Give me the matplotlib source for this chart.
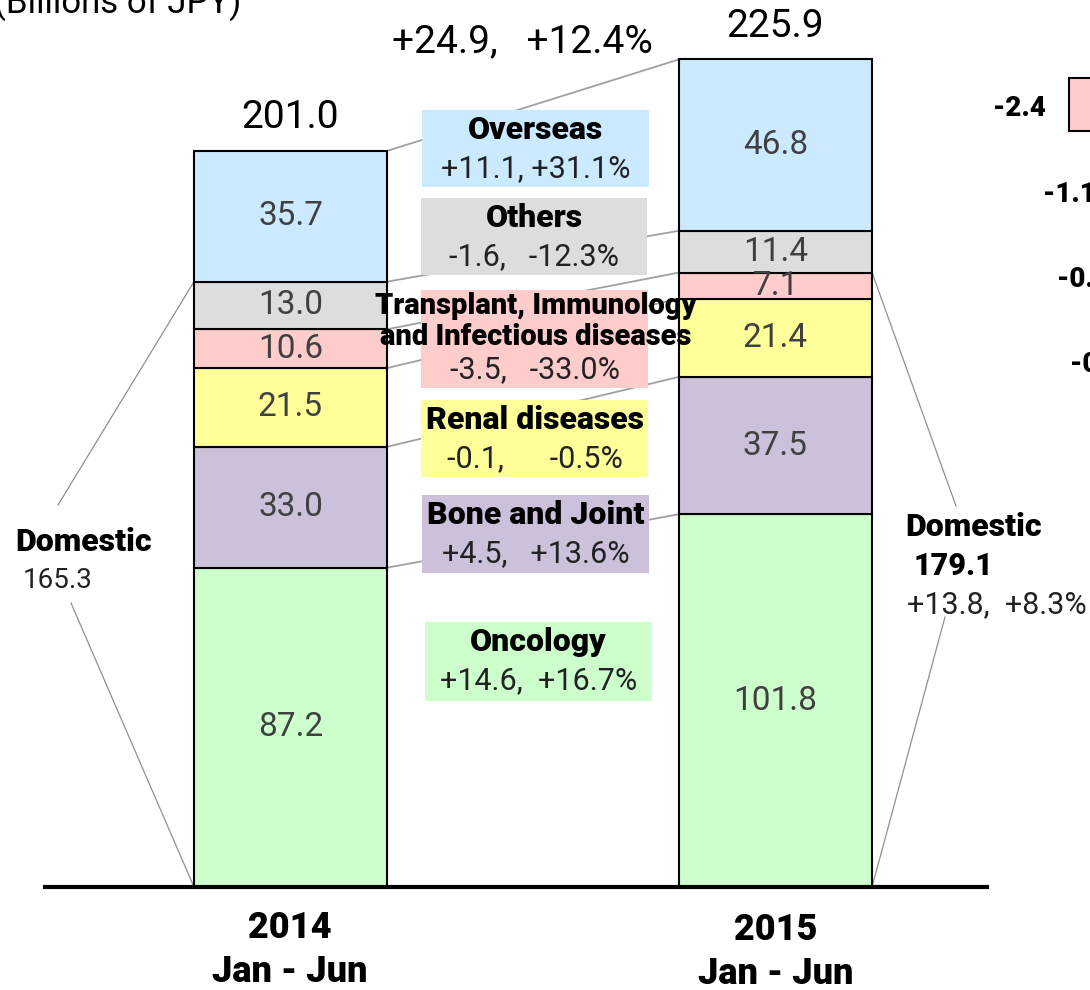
import matplotlib.pyplot as plt
import numpy as np
from matplotlib.patches import Rectangle

plt.rcParams['font.family'] = ['Roboto', 'DejaVu Sans']

# segments from bottom to top
segments = ['Oncology', 'Bone and Joint', 'Renal diseases',
            'Transplant, Immunology\nand Infectious diseases', 'Others', 'Overseas']
v2014 = [87.2, 33.0, 21.5, 10.6, 13.0, 35.7]
v2015 = [101.8, 37.5, 21.4, 7.1, 11.4, 46.8]
changes = ['+14.6,  +16.7%', '+4.5,   +13.6%', '-0.1,      -0.5%',
           '-3.5,   -33.0%', '-1.6,   -12.3%', '+11.1, +31.1%']
colors = ['#ccffcc', '#ccc0da', '#ffff99', '#ffcccc', '#dddddd', '#cceaff']
periods = ['2014\nJan - Jun', '2015\nJan - Jun']
totals = ['201.0', '225.9']
total_change = '+24.9,   +12.4%'
domestic = [165.3, 179.1]
domestic_change = '+13.8,  +8.3%'

# pixel layout helpers
X0, XS = 290.5, 485.0
Y0, YS = 887.0, 3.662


def d(xp, yp):
    return (xp - X0) / XS, (Y0 - yp) / YS


fig = plt.figure(figsize=(10.9, 9.9), dpi=100)
ax = fig.add_axes([0, 0, 1, 1])
ax.set_xlim((0 - X0) / XS, (1090 - X0) / XS)
ax.set_ylim((Y0 - 990) / YS, Y0 / YS)
ax.axis('off')

HW = 'heavy'
w = 193 / XS
xs = [0, 1]
bot14 = np.concatenate([[0], np.cumsum(v2014)[:-1]])
bot15 = np.concatenate([[0], np.cumsum(v2015)[:-1]])
ax.bar(xs[0], v2014, w, bottom=bot14, color=colors, edgecolor='black', lw=1.5, zorder=3)
ax.bar(xs[1], v2015, w, bottom=bot15, color=colors, edgecolor='black', lw=1.5, zorder=3)

for b, v in zip(bot14, v2014):
    ax.text(xs[0], b + v / 2, f'{v:.1f}', ha='center', va='center', fontsize=24, color='#404040', zorder=4)
for b, v in zip(bot15, v2015):
    ax.text(xs[1], b + v / 2, f'{v:.1f}', ha='center', va='center', fontsize=24, color='#404040', zorder=4)

# connector lines between segment tops
top14 = np.cumsum(v2014)
top15 = np.cumsum(v2015)
for a, b in zip(top14, top15):
    ax.plot([xs[0] + w / 2, xs[1] - w / 2], [a, b], color='#a0a0a0', lw=1.3, zorder=1)

# label boxes
boxes = [(425, 622, 227, 79), (422, 495, 227, 78), (421, 400, 227, 77),
         (421, 290, 227, 98), (421, 198, 226, 77), (422, 110, 227, 77)]
for (bx, by, bw, bh), c, name, ch in zip(boxes, colors, segments, changes):
    x1, y1 = d(bx, by + bh)
    ax.add_patch(Rectangle((x1, y1), bw / XS, bh / YS, color=c, lw=0, zorder=2))
    cx = bx + bw / 2
    if '\n' in name:
        l1, l2 = name.split('\n')
        ax.text(*d(536, 306), l1, ha='center', va='center', fontsize=21, weight=HW, zorder=4)
        ax.text(*d(536, 337), l2, ha='center', va='center', fontsize=21, weight=HW, zorder=4)
        ax.text(*d(cx, 370), ch, ha='center', va='center', fontsize=22, color='#222222', zorder=4)
    else:
        ax.text(*d(cx, by + 20), name, ha='center', va='center', fontsize=23, weight=HW, zorder=4)
        ax.text(*d(cx, by + 59), ch, ha='center', va='center', fontsize=22, color='#222222', zorder=4)

# totals
ax.text(xs[0], top14[-1] + 9, totals[0], ha='center', va='center', fontsize=28)
ax.text(xs[1], top15[-1] + 9, totals[1], ha='center', va='center', fontsize=28)
ax.text(*d(522, 42), total_change, ha='center', va='center', fontsize=28)
ax.text(*d(-6, 13), '(Billions of JPY)', ha='left', va='baseline', fontsize=25)

# domestic brackets
lx = xs[0] - w / 2
rx = xs[1] + w / 2
ax.plot([lx, d(58, 505)[0]], [domestic[0], d(58, 505)[1]], color='#909090', lw=0.9)
ax.plot([lx, d(71, 603)[0]], [0, d(71, 603)[1]], color='#909090', lw=0.9)
ax.plot([rx, d(956, 506)[0]], [top15[3], d(956, 506)[1]], color='#909090', lw=0.9)
ax.plot([rx, d(945, 617)[0]], [0, d(945, 617)[1]], color='#909090', lw=0.9)
ax.text(*d(84, 542), 'Domestic', ha='center', va='center', fontsize=23, weight=HW)
ax.text(*d(58, 580), f'{domestic[0]:.1f}', ha='center', va='center', fontsize=20, color='#222222')
ax.text(*d(974, 527), 'Domestic', ha='center', va='center', fontsize=23, weight=HW)
ax.text(*d(953, 566), f'{domestic[1]:.1f}', ha='center', va='center', fontsize=22, weight=HW)
ax.text(*d(997, 605), domestic_change, ha='center', va='center', fontsize=22, color='#222222')

# baseline
ax.plot([d(45, 0)[0], d(987, 0)[0]], [0, 0], color='black', lw=3, zorder=5)

# period labels
ax.text(*d(290, 950), periods[0], ha='center', va='center', fontsize=26, weight=HW, linespacing=1.25)
ax.text(*d(776, 952), periods[1], ha='center', va='center', fontsize=26, weight=HW, linespacing=1.25)

# clipped neighbouring chart on the right edge
ax.text(*d(1046, 108), '-2.4', ha='right', va='center', fontsize=20, weight=HW)
ax.add_patch(Rectangle(d(1069, 131), 60 / XS, 53 / YS, facecolor='#ffcccc', edgecolor='black', lw=1.5, clip_on=False))
ax.text(*d(1043, 195), '-1.1', ha='left', va='center', fontsize=20, weight=HW)
ax.text(*d(1057, 280), '-0.9', ha='left', va='center', fontsize=20, weight=HW)
ax.text(*d(1070, 365), '-0.5', ha='left', va='center', fontsize=20, weight=HW)

fig.savefig('out.png', dpi=100)
